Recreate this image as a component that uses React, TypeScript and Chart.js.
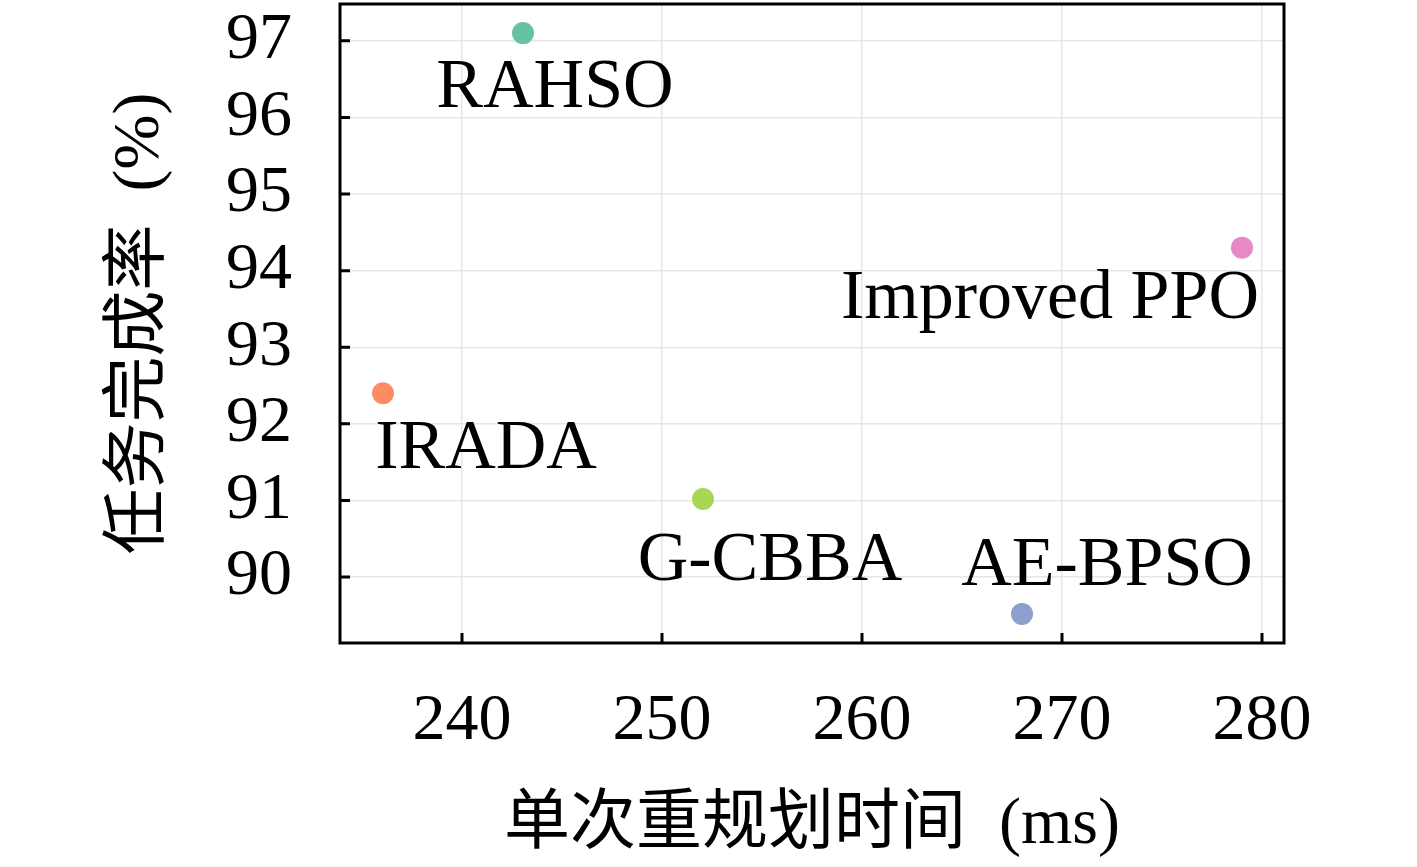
import { useEffect, useRef } from 'react';
import { Chart, registerables } from 'chart.js';

Chart.register(...registerables);

// methods and their measured values
const methods = ['RAHSO', 'IRADA', 'G-CBBA', 'AE-BPSO', 'Improved PPO'];
const replanTimes = [243.05, 236.05, 252.05, 268.0, 279.0]; // ms
const completionRates = [97.1, 92.4, 91.02, 89.52, 94.3]; // %
const colors = ['#66c2a5', '#fc8d62', '#a6d854', '#8da0cb', '#e78ac3'];

const xTicks = [240, 250, 260, 270, 280];
const yTicks = [90, 91, 92, 93, 94, 95, 96, 97];

// label offsets from the marker (px, text centre / baseline)
const labelOffsets: [number, number][] = [
  [32, 74],
  [103, 75],
  [67, 81],
  [85, -29],
  [-192, 70],
];

const SERIF = '"Liberation Serif", "Noto Sans CJK SC", serif';

const framePlugin = {
  id: 'frame',
  afterDatasetsDraw(chart: Chart) {
    const { ctx, chartArea } = chart;
    const xs = chart.scales.x;
    const ys = chart.scales.y;
    ctx.save();
    ctx.strokeStyle = '#000';
    ctx.lineWidth = 3;
    ctx.strokeRect(chartArea.left, chartArea.top, chartArea.width, chartArea.height);
    // inward tick marks
    ctx.beginPath();
    xTicks.forEach(v => {
      const px = xs.getPixelForValue(v);
      ctx.moveTo(px, chartArea.bottom);
      ctx.lineTo(px, chartArea.bottom - 10);
    });
    yTicks.forEach(v => {
      const py = ys.getPixelForValue(v);
      ctx.moveTo(chartArea.left, py);
      ctx.lineTo(chartArea.left + 10, py);
    });
    ctx.stroke();

    // point labels
    ctx.fillStyle = '#000';
    ctx.font = `70px ${SERIF}`;
    ctx.textAlign = 'center';
    ctx.textBaseline = 'alphabetic';
    methods.forEach((name, i) => {
      const px = xs.getPixelForValue(replanTimes[i]) + labelOffsets[i][0];
      const py = ys.getPixelForValue(completionRates[i]) + labelOffsets[i][1];
      ctx.fillText(name, px, py);
    });
    ctx.restore();
  },
};

export default function App() {
  const canvasRef = useRef<HTMLCanvasElement | null>(null);
  const chartRef = useRef<Chart | null>(null);

  useEffect(() => {
    document.body.style.margin = '0';
    if (!canvasRef.current) return;
    if (chartRef.current) chartRef.current.destroy();

    const ctx = canvasRef.current.getContext('2d');
    if (!ctx) return;

    chartRef.current = new Chart(ctx, {
      type: 'scatter',
      data: {
        datasets: [
          {
            label: '方法',
            data: methods.map((_, i) => ({ x: replanTimes[i], y: completionRates[i] })),
            backgroundColor: colors,
            pointRadius: 11,
            pointBorderWidth: 0,
            pointHoverRadius: 11,
          },
        ],
      },
      options: {
        animation: false,
        responsive: true,
        maintainAspectRatio: false,
        layout: { autoPadding: false, padding: { top: 4, right: 133, left: 0, bottom: 0 } },
        plugins: {
          legend: { display: false },
          tooltip: { enabled: false },
        },
        scales: {
          x: {
            type: 'linear',
            min: 233.9,
            max: 281.1,
            afterBuildTicks: scale => {
              scale.ticks = xTicks.map(value => ({ value }));
            },
            afterFit: scale => {
              scale.height = 224;
              scale.paddingLeft = 0;
              scale.paddingRight = 0;
            },
            border: { display: false },
            grid: { color: '#e6e6e6', lineWidth: 1.5, drawTicks: false },
            ticks: {
              color: '#000',
              padding: 39,
              maxRotation: 0,
              font: { family: SERIF, size: 66 },
            },
            title: {
              display: true,
              text: '单次重规划时间\u2002(ms)',
              color: '#000',
              padding: { top: 0, bottom: 2 },
              font: { family: SERIF, size: 66 },
            },
          },
          y: {
            type: 'linear',
            min: 89.14,
            max: 97.48,
            afterBuildTicks: scale => {
              scale.ticks = yTicks.map(value => ({ value }));
            },
            afterFit: scale => {
              scale.width = 340;
              scale.paddingTop = 0;
              scale.paddingBottom = 0;
            },
            border: { display: false },
            grid: { color: '#e6e6e6', lineWidth: 1.5, drawTicks: false },
            ticks: {
              color: '#000',
              padding: 48,
              font: { family: SERIF, size: 66 },
            },
            title: {
              display: true,
              text: '任务完成率\u2002(%)',
              color: '#000',
              padding: { top: 101, bottom: 0 },
              font: { family: SERIF, size: 66 },
            },
          },
        },
      },
      plugins: [framePlugin],
    });

    return () => {
      if (chartRef.current) {
        chartRef.current.destroy();
        chartRef.current = null;
      }
    };
  }, []);

  return (
    <div style={{ width: 1417, height: 867, background: '#fff' }}>
      <canvas ref={canvasRef} />
    </div>
  );
}
